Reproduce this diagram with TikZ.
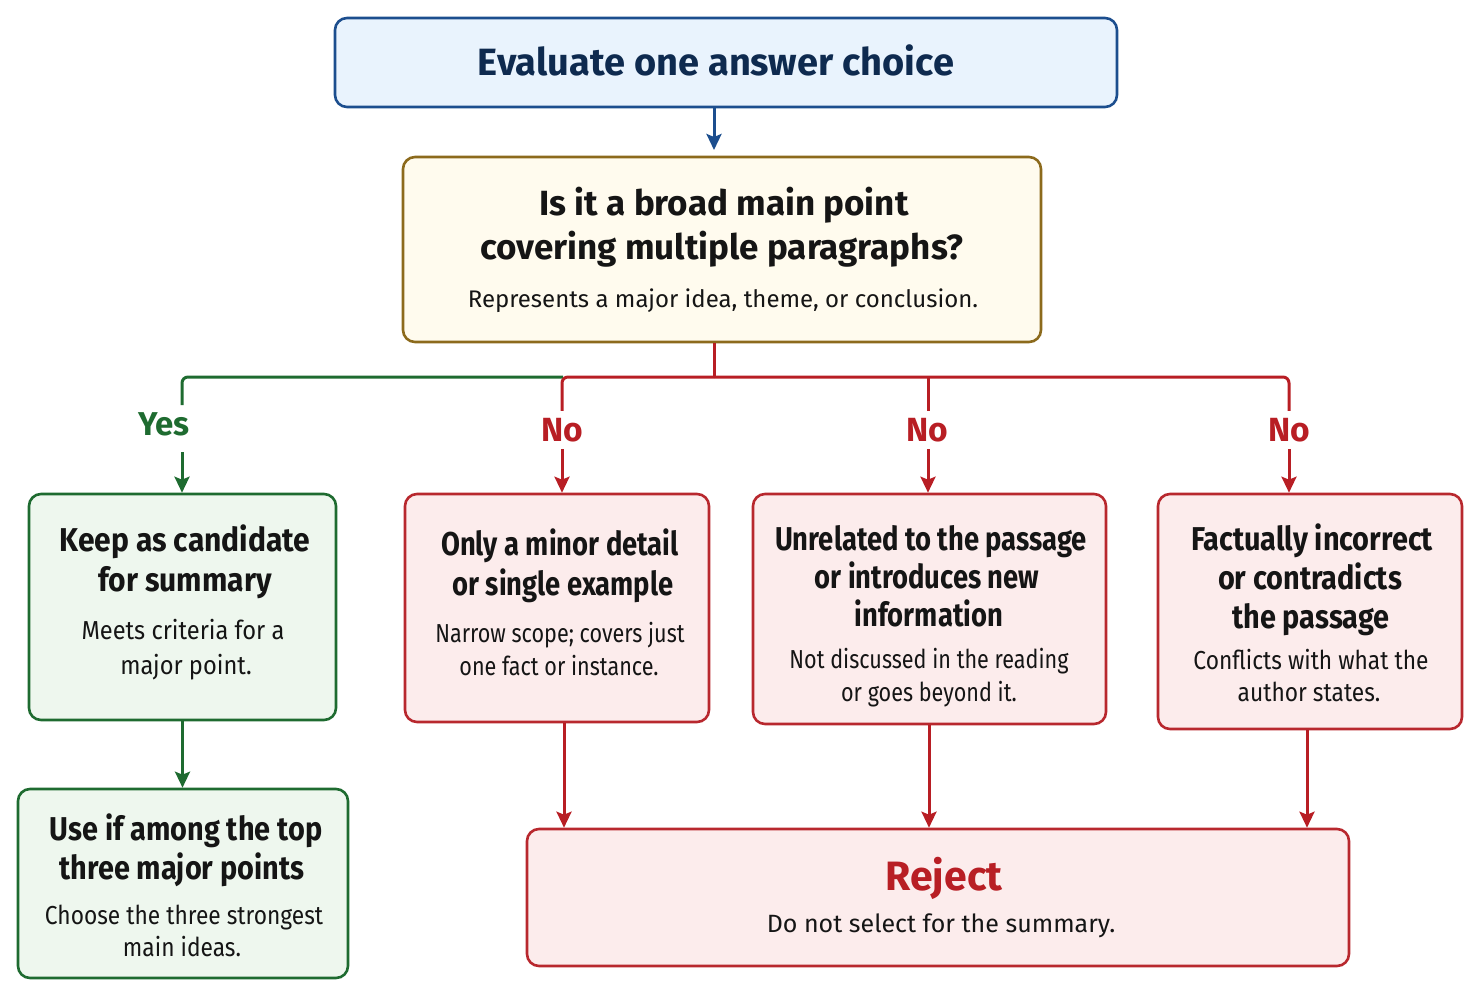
\documentclass[tikz,border=0pt]{standalone}
\usepackage{fontspec}
\setmainfont{Fira Sans}
\newfontfamily\condA[FakeStretch=0.91]{Fira Sans}
\newfontfamily\condB[FakeStretch=0.875]{Fira Sans}
\newfontfamily\condC[FakeStretch=0.83]{Fira Sans}
\usetikzlibrary{arrows.meta}
\definecolor{bluefill}{HTML}{E9F3FD}
\definecolor{blueline}{HTML}{1C4E8E}
\definecolor{navytext}{HTML}{0E2A4F}
\definecolor{yelfill}{HTML}{FFFBEE}
\definecolor{yelline}{HTML}{8C6A1C}
\definecolor{grnfill}{HTML}{EEF7EE}
\definecolor{grnline}{HTML}{1E6B30}
\definecolor{redfill}{HTML}{FCECEC}
\definecolor{redline}{HTML}{B8282E}
\definecolor{redarrow}{HTML}{B81E24}
\definecolor{darktext}{HTML}{151515}
\begin{document}
\begin{tikzpicture}[x=1pt,y=-1pt,
  box/.style={draw, rounded corners=12pt, line width=2.6pt, inner sep=0pt},
  bluebox/.style={box, draw=blueline, fill=bluefill},
  yelbox/.style={box, draw=yelline, fill=yelfill},
  grnbox/.style={box, draw=grnline, fill=grnfill},
  redbox/.style={box, draw=redline, fill=redfill},
  txt/.style={anchor=base, inner sep=0pt, text=darktext},
  ttlA/.style={txt, font=\fontsize{38}{44}\selectfont\bfseries, text=navytext},
  ttlQ/.style={txt, font=\fontsize{35}{40}\selectfont\bfseries},
  subQ/.style={txt, font=\fontsize{24}{28}\selectfont},
  ttl/.style={txt, font=#1\fontsize{33}{38}\selectfont\bfseries},
  sub/.style={txt, font=#1\fontsize{26}{30}\selectfont},
  lbl/.style={anchor=center, inner sep=7pt, font=\fontsize{33.5}{38}\selectfont\bfseries},
  conn/.style={line width=3pt},
  tip/.style={-{Stealth[length=16pt,width=15pt,inset=3pt]}},
  gconn/.style={conn, draw=grnline},
  rconn/.style={conn, draw=redarrow},
  bconn/.style={conn, draw=blueline}
]
\useasboundingbox (0,0) rectangle (1481,997);

% boxes
\node[bluebox, minimum width=782pt, minimum height=89pt] (start) at (726,62.5) {};
\node[yelbox, minimum width=638pt, minimum height=185pt] (q) at (722,249.5) {};
\node[grnbox, minimum width=307pt, minimum height=226pt] (keep) at (182.5,607) {};
\node[grnbox, minimum width=330pt, minimum height=189pt] (use) at (183,883.5) {};
\node[redbox, minimum width=304pt, minimum height=228pt] (minor) at (557,608) {};
\node[redbox, minimum width=353pt, minimum height=230pt] (unrel) at (929.5,609) {};
\node[redbox, minimum width=304pt, minimum height=235pt] (fact) at (1310,611.5) {};
\node[redbox, minimum width=822pt, minimum height=137pt] (reject) at (938,897.5) {};

% texts
\node[ttlA] (startt) at (716,75) {Evaluate one answer choice};
\node[ttlQ] (qa) at (724,215) {Is it a broad main point};
\node[ttlQ] (qb) at (722,259) {covering multiple paragraphs?};
\node[subQ] (qc) at (723,307) {Represents a major idea, theme, or conclusion.};

\node[ttl=\condA] (ka) at (185,551) {Keep as candidate};
\node[ttl=\condA] (kb) at (185,591) {for summary};
\node[sub=\condA] (kc) at (183,639) {Meets criteria for a};
\node[sub=\condA] (kd) at (186,674) {major point.};

\node[ttl=\condB] (ua) at (186,840) {Use if among the top};
\node[ttl=\condB] (ub) at (182,879) {three major points};
\node[sub=\condB] (uc) at (184,924) {Choose the three strongest};
\node[sub=\condB] (ud) at (182,956) {main ideas.};

\node[ttl=\condC] (ma) at (560,555) {Only a minor detail};
\node[ttl=\condC] (mb) at (563,595) {or single example};
\node[sub=\condC] (mc) at (560,642) {Narrow scope; covers just};
\node[sub=\condC] (md) at (559,675) {one fact or instance.};

\node[ttl=\condC] (na) at (931,550) {Unrelated to the passage};
\node[ttl=\condC] (nb) at (927,588) {or introduces new};
\node[ttl=\condC] (nc) at (929,626) {information};
\node[sub=\condC] (nd) at (929,668) {Not discussed in the reading};
\node[sub=\condC] (ne) at (929,701) {or goes beyond it.};

\node[ttl=\condB] (fa) at (1312,550) {Factually incorrect};
\node[ttl=\condB] (fb) at (1310,589) {or contradicts};
\node[ttl=\condB] (fc) at (1311,628) {the passage};
\node[sub=\condB] (fd) at (1311,669) {Conflicts with what the};
\node[sub=\condB] (fe) at (1309,701) {author states.};

\node[txt, font=\fontsize{41}{46}\selectfont\bfseries, text=redarrow] (rja) at (944,890) {Reject};
\node[txt, font=\fontsize{25}{30}\selectfont] (rjb) at (941,932) {Do not select for the summary.};

% labels
\node[txt, font=\fontsize{33}{38}\selectfont\bfseries, text=grnline] (yes) at (164,435) {Yes};
\node[lbl, text=redarrow] (no1) at (562,430) {No};
\node[lbl, text=redarrow] (no2) at (927,430) {No};
\node[lbl, text=redarrow] (no3) at (1289,430) {No};

% coordinates
\coordinate (j) at (714,377);
\coordinate (jl) at (563,377);
\coordinate (jm) at (928,377);
\coordinate (ya) at (182,405);
\coordinate (yb) at (182,452);

% connectors
\draw[bconn, tip] (start.south -| 714,0) -- (714,150);
\draw[rconn] (q.south -| j) -- (j);
\draw[gconn, rounded corners=6pt] (jl) -| (ya);
\draw[gconn, tip] (yb) -- (keep.north -| yb);
\draw[rconn, rounded corners=6pt] (j) -| (no1.north);
\draw[rconn, rounded corners=6pt] (j) -| (no3.north);
\draw[rconn] (jm) -- (no2.north -| jm);
\draw[rconn, tip] (no1.south) -- (minor.north -| no1.south);
\draw[rconn, tip] (no2.south -| jm) -- (unrel.north -| jm);
\draw[rconn, tip] (no3.south) -- (fact.north -| no3.south);

\draw[gconn, tip] (keep.south) -- (use.north -| keep.south);
\draw[rconn, tip] (minor.south -| 564,0) -- (reject.north -| 564,0);
\draw[rconn, tip] (unrel.south -| 929,0) -- (reject.north -| 929,0);
\draw[rconn, tip] (fact.south -| 1307,0) -- (reject.north -| 1307,0);
\end{tikzpicture}
\end{document}
